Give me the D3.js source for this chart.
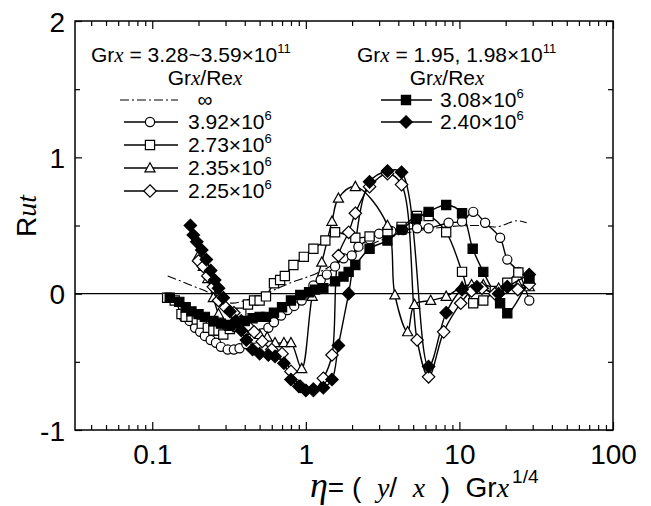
<!DOCTYPE html>
<html>
<head>
<meta charset="utf-8">
<script src="https://cdn.jsdelivr.net/npm/d3@7"></script>
<style>
  body { margin: 0; background: #fff; }
  svg { font-family: "Liberation Sans", Arial, sans-serif; }
  .it { font-family: "Liberation Serif", "Times New Roman", serif; font-style: italic; }
</style>
</head>
<body>
<div id="chart"></div>
<script>
// ---- data ----
var xTicks = [0.1, 1, 10, 100];
var xTickLabels = ["0.1", "1", "10", "100"];
var yTicks = [-1, 0, 1, 2];
var yTickLabels = ["-1", "0", "1", "2"];

// Grx/Rex = infinity (dash-dot, no markers)
var infX = [0.126, 0.177, 0.238, 0.321, 0.413, 0.586, 0.79, 1.18, 1.85, 3.04, 4.99, 8.26, 13.6, 17.5, 23.6, 27.4];
var infY = [0.13, 0.064, 0.005, -0.068, -0.046, 0.015, 0.078, 0.15, 0.27, 0.39, 0.455, 0.49, 0.50, 0.49, 0.535, 0.52];

// 3.92e6 open circles
var circX = [0.16, 0.175, 0.19, 0.205, 0.22, 0.24, 0.26, 0.28, 0.31, 0.34, 0.37, 0.41, 0.46, 0.52, 0.57, 0.62, 0.69, 0.76, 0.84, 0.94, 1.04, 1.12, 1.25, 1.37, 1.55, 1.76, 1.99, 2.2, 2.6, 3.0, 3.6, 4.3, 5.3, 6.3, 8.5, 10.4, 12.3, 14.7, 18.4, 20.5, 24.2, 28.5];
var circY = [-0.17, -0.2, -0.25, -0.28, -0.31, -0.34, -0.36, -0.39, -0.41, -0.41, -0.4, -0.37, -0.33, -0.29, -0.25, -0.21, -0.16, -0.12, -0.09, -0.05, 0.0, 0.06, 0.1, 0.14, 0.2, 0.26, 0.28, 0.345, 0.4, 0.44, 0.46, 0.467, 0.48, 0.48, 0.52, 0.53, 0.6, 0.52, 0.41, 0.25, 0.16, -0.05];

// 2.73e6 open squares
var sqX = [0.125, 0.14, 0.155, 0.165, 0.18, 0.195, 0.21, 0.23, 0.25, 0.27, 0.29, 0.32, 0.35, 0.38, 0.42, 0.46, 0.5, 0.55, 0.62, 0.68, 0.73, 0.83, 0.97, 1.12, 1.34, 1.55, 2.1, 2.6, 3.4, 4.2, 5.3, 6.3, 8.2, 10.4, 12.3, 14.3, 17, 20.5, 24.2, 28.5];
var sqY = [-0.03, -0.05, -0.15, -0.17, -0.17, -0.19, -0.22, -0.25, -0.27, -0.27, -0.3, -0.26, -0.2, -0.14, -0.08, -0.05, -0.05, -0.02, 0.076, 0.1, 0.13, 0.21, 0.27, 0.33, 0.39, 0.45, 0.41, 0.42, 0.45, 0.49, 0.57, 0.57, 0.45, 0.16, -0.07, -0.05, 0.02, 0.08, 0.155, 0.1];

// 2.35e6 open triangles
var triX = [0.2, 0.215, 0.23, 0.25, 0.27, 0.29, 0.32, 0.36, 0.4, 0.45, 0.5, 0.56, 0.63, 0.72, 0.8, 0.94, 1.1, 1.27, 1.48, 1.63, 2.1, 3.4, 3.8, 4.6, 5.1, 6.5, 8.2, 10.4, 12, 14.3, 18, 24.2, 28.5];
var triY = [0.28, 0.2, 0.11, -0.03, -0.15, -0.22, -0.24, -0.25, -0.24, -0.27, -0.3, -0.32, -0.36, -0.36, -0.36, -0.55, -0.02, 0.23, 0.53, 0.7, 0.785, 0.5, -0.01, -0.28, -0.08, -0.05, -0.02, 0.05, 0.065, 0.065, 0.04, 0.065, 0.05];

// 2.25e6 open diamonds
var diaX = [0.2, 0.215, 0.23, 0.25, 0.27, 0.3, 0.34, 0.38, 0.42, 0.46, 0.52, 0.6, 0.7, 0.8, 0.92, 1.12, 1.3, 1.48, 1.63, 1.9, 2.1, 2.6, 3.4, 4.2, 5.3, 6.3, 7.9, 10.2, 12, 14, 17, 20.5, 24, 28.5];
var diaY = [0.24, 0.2, 0.13, 0.05, -0.05, -0.1, -0.14, -0.2, -0.24, -0.28, -0.35, -0.41, -0.44, -0.57, -0.68, -0.71, -0.62, -0.45, 0.28, 0.45, 0.59, 0.785, 0.88, 0.8, -0.34, -0.61, -0.28, -0.07, 0.02, 0.04, 0.0, 0.05, 0.03, 0.07];

// 3.08e6 filled squares
var fsqX = [0.13, 0.15, 0.165, 0.18, 0.2, 0.22, 0.25, 0.28, 0.32, 0.36, 0.4, 0.45, 0.5, 0.55, 0.62, 0.7, 0.8, 0.92, 1.05, 1.15, 1.3, 1.55, 1.76, 1.9, 2.1, 2.6, 3.4, 4.2, 5.2, 6.3, 8.2, 10.4, 12.2, 14.3, 18.4, 20.5, 28.5];
var fsqY = [-0.03, -0.06, -0.1, -0.13, -0.15, -0.17, -0.2, -0.22, -0.23, -0.22, -0.2, -0.18, -0.17, -0.17, -0.14, -0.1, -0.05, -0.01, 0.01, 0.03, 0.04, 0.09, 0.125, 0.16, 0.21, 0.33, 0.39, 0.47, 0.55, 0.6, 0.65, 0.59, 0.33, 0.16, -0.07, -0.144, 0.11];

// 2.40e6 filled diamonds
var fdiX = [0.177, 0.185, 0.195, 0.21, 0.225, 0.24, 0.255, 0.27, 0.29, 0.32, 0.35, 0.38, 0.41, 0.45, 0.5, 0.57, 0.63, 0.72, 0.8, 0.9, 1.0, 1.12, 1.3, 1.48, 1.63, 1.9, 2.6, 3.4, 4.2, 6.3, 8.2, 10.4, 13, 18, 20.5, 28.5];
var fdiY = [0.5, 0.43, 0.38, 0.32, 0.25, 0.17, 0.1, 0.04, -0.03, -0.13, -0.2, -0.27, -0.34, -0.41, -0.44, -0.45, -0.46, -0.51, -0.63, -0.68, -0.71, -0.7, -0.69, -0.63, -0.38, 0.0, 0.82, 0.9, 0.89, -0.535, -0.14, 0.03, 0.05, 0.0, 0.05, 0.14];

var width = 651;
var height = 506;
var plotLeft = 75;
var plotRight = 613;
var plotTop = 21;
var plotBottom = 430;

var svg = d3.select("#chart").append("svg")
    .attr("width", width)
    .attr("height", height);

var xScale = d3.scaleLog()
    .domain([0.0314, 100])
    .range([plotLeft, plotRight]);

var yScale = d3.scaleLinear()
    .domain([-1, 2])
    .range([plotBottom, plotTop]);

// marker shapes
function markerPath(type, r) {
    if (type == "circle") return d3.symbol().type(d3.symbolCircle).size(Math.PI * r * r)();
    if (type == "square") return "M" + (-r) + "," + (-r) + "h" + 2 * r + "v" + 2 * r + "h" + (-2 * r) + "Z";
    if (type == "triangle") return "M0," + (-r * 1.15) + "L" + (r * 1.1) + "," + (r * 0.85) + "L" + (-r * 1.1) + "," + (r * 0.85) + "Z";
    if (type == "diamond") { var d = r * 1.35; return "M0," + (-d) + "L" + d + ",0L0," + d + "L" + (-d) + ",0Z"; }
}

var series = [
    { xs: circX, ys: circY, type: "circle", fill: "#fff" },
    { xs: sqX, ys: sqY, type: "square", fill: "#fff" },
    { xs: triX, ys: triY, type: "triangle", fill: "#fff" },
    { xs: diaX, ys: diaY, type: "diamond", fill: "#fff" },
    { xs: fsqX, ys: fsqY, type: "square", fill: "#000" },
    { xs: fdiX, ys: fdiY, type: "diamond", fill: "#000" }
];

var chart = svg.append("g");

// zero line
chart.append("line")
    .attr("x1", plotLeft).attr("x2", plotRight)
    .attr("y1", yScale(0)).attr("y2", yScale(0))
    .attr("stroke", "#000").attr("stroke-width", 1.2);

var line = d3.line()
    .x(function(d) { return xScale(d[0]); })
    .y(function(d) { return yScale(d[1]); })
    .curve(d3.curveCatmullRom.alpha(0.5));

// dash-dot line
chart.append("path")
    .attr("d", line(d3.zip(infX, infY)))
    .attr("fill", "none")
    .attr("stroke", "#000")
    .attr("stroke-width", 1.1)
    .attr("stroke-dasharray", "9,3,2,3");

series.forEach(function(s) {
    chart.append("path")
        .attr("d", line(d3.zip(s.xs, s.ys)))
        .attr("fill", "none")
        .attr("stroke", "#000")
        .attr("stroke-width", 1.4);
});

series.forEach(function(s) {
    chart.selectAll(null)
        .data(d3.zip(s.xs, s.ys))
        .enter()
        .append("path")
            .attr("transform", function(d) { return "translate(" + xScale(d[0]) + "," + yScale(d[1]) + ")"; })
            .attr("d", markerPath(s.type, 4.6))
            .attr("fill", s.fill)
            .attr("stroke", "#000")
            .attr("stroke-width", 1.2);
});

// frame
svg.append("rect")
    .attr("x", plotLeft).attr("y", plotTop)
    .attr("width", plotRight - plotLeft).attr("height", plotBottom - plotTop)
    .attr("fill", "none").attr("stroke", "#000").attr("stroke-width", 1.5);

// AXES (ticks inward, mirrored on top and right)
var xMinor = xScale.ticks().filter(function(t) { return xTicks.indexOf(t) < 0; });

var gxb = svg.append("g").attr("transform", "translate(0," + plotBottom + ")")
    .call(d3.axisBottom(xScale).tickValues(xTicks).tickSize(-8).tickPadding(14)
        .tickFormat(function(d, i) { return xTickLabels[i]; }));
gxb.append("g").call(d3.axisBottom(xScale).tickValues(xMinor).tickSize(-5).tickFormat(""));

var gxt = svg.append("g").attr("transform", "translate(0," + plotTop + ")");
gxt.call(d3.axisTop(xScale).tickValues(xTicks).tickSize(-8).tickFormat(""));
gxt.append("g").call(d3.axisTop(xScale).tickValues(xMinor).tickSize(-5).tickFormat(""));

var yMinor = [-0.5, 0.5, 1.5];
var gyl = svg.append("g").attr("transform", "translate(" + plotLeft + ",0)");
gyl.call(d3.axisLeft(yScale).tickValues(yTicks).tickSize(-7).tickPadding(10)
    .tickFormat(function(d, i) { return yTickLabels[i]; }));
gyl.append("g").call(d3.axisLeft(yScale).tickValues(yMinor).tickSize(-5).tickFormat(""));

var gyr = svg.append("g").attr("transform", "translate(" + plotRight + ",0)");
gyr.call(d3.axisRight(yScale).tickValues(yTicks).tickSize(-7).tickFormat(""));
gyr.append("g").call(d3.axisRight(yScale).tickValues(yMinor).tickSize(-5).tickFormat(""));

svg.selectAll(".domain").remove();
svg.selectAll(".tick line").attr("stroke", "#000").attr("stroke-width", 1.2);
svg.selectAll(".tick text")
    .style("font-size", "28px")
    .style("font-family", "'Liberation Sans', Arial, sans-serif")
    .attr("fill", "#000");
gyl.selectAll(".tick text").attr("dy", "0.36em");

// axis titles
svg.append("text")
    .attr("transform", "translate(36,216) rotate(-90)")
    .attr("text-anchor", "middle")
    .style("font-size", "28px")
    .html('R<tspan class="it">ut</tspan>');

svg.append("text")
    .attr("x", 310).attr("y", 497)
    .style("font-size", "28px")
    .style("white-space", "pre")
    .html('<tspan class="it" style="font-size:36px">η</tspan>= (  <tspan class="it">y</tspan>/  <tspan class="it">x</tspan>  )  Gr<tspan class="it">x</tspan><tspan dx="3" dy="-14" style="font-size:19px">1/4</tspan>');

// LEGEND
var legLeft = svg.append("g").style("font-size", "21px");
legLeft.append("text").attr("x", 91).attr("y", 62)
    .html('Gr<tspan class="it">x</tspan> = 3.28~3.59×10<tspan dy="-9" style="font-size:13px">11</tspan>');
legLeft.append("text").attr("x", 205).attr("y", 85).attr("text-anchor", "middle")
    .html('Gr<tspan class="it">x</tspan>/Re<tspan class="it">x</tspan>');
legLeft.append("line").attr("x1", 120).attr("x2", 178).attr("y1", 100).attr("y2", 100)
    .attr("stroke", "#000").attr("stroke-width", 1.1).attr("stroke-dasharray", "9,3,2,3");
legLeft.append("text").attr("x", 205).attr("y", 107).attr("text-anchor", "middle").text("∞");

var leftRows = ["3.92×10", "2.73×10", "2.35×10", "2.25×10"];
var rightRows = ["3.08×10", "2.40×10"];

leftRows.forEach(function(lab, i) {
    var y = 122 + i * 23;
    var s = series[i];
    legLeft.append("line").attr("x1", 124).attr("x2", 178).attr("y1", y).attr("y2", y)
        .attr("stroke", "#000").attr("stroke-width", 1.4);
    legLeft.append("path").attr("transform", "translate(150," + y + ")")
        .attr("d", markerPath(s.type, 4.6)).attr("fill", s.fill).attr("stroke", "#000").attr("stroke-width", 1.2);
    legLeft.append("text").attr("x", 188).attr("y", y + 7)
        .html(lab + '<tspan dy="-9" style="font-size:13px">6</tspan>');
});

var legRight = svg.append("g").style("font-size", "21px");
legRight.append("text").attr("x", 357).attr("y", 62)
    .html('Gr<tspan class="it">x</tspan> = 1.95, 1.98×10<tspan dy="-9" style="font-size:13px">11</tspan>');
legRight.append("text").attr("x", 447).attr("y", 85).attr("text-anchor", "middle")
    .html('Gr<tspan class="it">x</tspan>/Re<tspan class="it">x</tspan>');
rightRows.forEach(function(lab, i) {
    var y = 100 + i * 22;
    var s = series[4 + i];
    legRight.append("line").attr("x1", 381).attr("x2", 432).attr("y1", y).attr("y2", y)
        .attr("stroke", "#000").attr("stroke-width", 1.4);
    legRight.append("path").attr("transform", "translate(406," + y + ")")
        .attr("d", markerPath(s.type, 4.6)).attr("fill", s.fill).attr("stroke", "#000").attr("stroke-width", 1.2);
    legRight.append("text").attr("x", 440).attr("y", y + 7)
        .html(lab + '<tspan dy="-9" style="font-size:13px">6</tspan>');
});
</script>
</body>
</html>
